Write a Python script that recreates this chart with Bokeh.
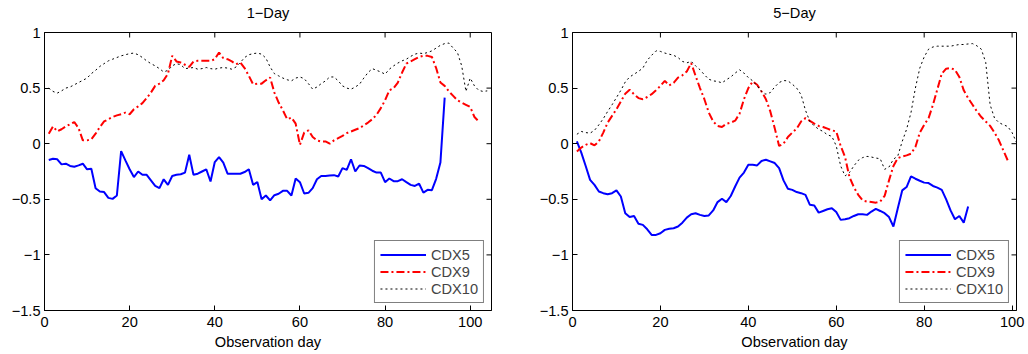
import math
from bokeh.plotting import figure
from bokeh.layouts import row
from bokeh.models import Range1d, FixedTicker, CustomJSTickFormatter, LinearAxis
from bokeh.embed import file_html
from bokeh.resources import INLINE

# ---------------- data ----------------
titles = ["1\u2212Day", "5\u2212Day"]
series_names = ["CDX5", "CDX9", "CDX10"]
x_ticks = [0, 20, 40, 60, 80, 100]
y_ticks = [-1.5, -1, -0.5, 0, 0.5, 1]
x_end = [105, 101]

cdx5_1d = [-0.147, -0.135, -0.14, -0.186, -0.18, -0.2, -0.207, -0.195, -0.18, -0.23,
           -0.225, -0.4, -0.43, -0.435, -0.487, -0.496, -0.466, -0.067, -0.15, -0.23,
           -0.30, -0.25, -0.28, -0.28, -0.33, -0.38, -0.40, -0.32, -0.37, -0.29,
           -0.28, -0.275, -0.26, -0.10, -0.28, -0.27, -0.25, -0.23, -0.34, -0.165,
           -0.12, -0.17, -0.27, -0.27, -0.27, -0.27, -0.255, -0.23, -0.37, -0.345,
           -0.50, -0.466, -0.51, -0.463, -0.45, -0.424, -0.424, -0.466, -0.313, -0.346,
           -0.448, -0.442, -0.40, -0.32, -0.29, -0.29, -0.286, -0.283, -0.295, -0.22,
           -0.235, -0.14, -0.25, -0.196, -0.20, -0.22, -0.243, -0.26, -0.26, -0.346,
           -0.313, -0.337, -0.337, -0.32, -0.346, -0.37, -0.38, -0.36, -0.44, -0.415,
           -0.418, -0.316, -0.17, 0.414]

cdx9_1d = [0.09, 0.155, 0.11, 0.13, 0.155, 0.175, 0.195, 0.14, 0.03, 0.03,
           0.04, 0.09, 0.15, 0.2, 0.22, 0.24, 0.255, 0.265, 0.28, 0.265,
           0.31, 0.335, 0.365, 0.41, 0.46, 0.52, 0.54, 0.57, 0.63, 0.79,
           0.74, 0.73, 0.71, 0.69, 0.74, 0.745, 0.745, 0.745, 0.745, 0.76,
           0.82, 0.77, 0.76, 0.74, 0.715, 0.73, 0.68, 0.61, 0.534, 0.54,
           0.54, 0.57, 0.595, 0.46, 0.37, 0.30, 0.22, 0.235, 0.18, -0.01,
           0.1, 0.12, 0.06, 0.03, 0.02, 0.02, 0.0, 0.03, 0.05, 0.07,
           0.095, 0.11, 0.125, 0.14, 0.165, 0.19, 0.22, 0.26, 0.32, 0.39,
           0.48, 0.5, 0.55, 0.64, 0.72, 0.74, 0.76, 0.78, 0.79, 0.79,
           0.78, 0.68, 0.55, 0.52, 0.47, 0.43, 0.39, 0.37, 0.35, 0.33,
           0.24, 0.2]

cdx10_1d = [0.5, 0.47, 0.455, 0.475, 0.5, 0.51, 0.53, 0.55, 0.57, 0.59,
            0.63, 0.66, 0.695, 0.72, 0.745, 0.76, 0.775, 0.79, 0.8, 0.81,
            0.815, 0.8, 0.775, 0.745, 0.72, 0.7, 0.675, 0.645, 0.66, 0.7,
            0.72, 0.71, 0.675, 0.68, 0.685, 0.67, 0.675, 0.685, 0.675, 0.67,
            0.68, 0.685, 0.68, 0.67, 0.69, 0.73, 0.775, 0.8, 0.81, 0.815,
            0.805, 0.77, 0.69, 0.63, 0.61, 0.59, 0.575, 0.565, 0.59, 0.6,
            0.585, 0.54, 0.49, 0.51, 0.54, 0.565, 0.6, 0.6, 0.565, 0.52,
            0.5, 0.49, 0.51, 0.535, 0.59, 0.64, 0.675, 0.66, 0.645, 0.625,
            0.67, 0.7, 0.725, 0.745, 0.76, 0.785, 0.805, 0.815, 0.81, 0.82,
            0.835, 0.86, 0.885, 0.9, 0.905, 0.86, 0.82, 0.7, 0.47, 0.59,
            0.52, 0.48, 0.47, 0.475]

cdx5_5d = [0.02, -0.08, -0.2, -0.325, -0.37, -0.43, -0.445, -0.455, -0.445, -0.42,
           -0.475, -0.625, -0.66, -0.65, -0.72, -0.73, -0.77, -0.82, -0.82, -0.805,
           -0.775, -0.765, -0.76, -0.745, -0.71, -0.665, -0.635, -0.625, -0.64, -0.65,
           -0.645, -0.6, -0.525, -0.495, -0.525, -0.47, -0.385, -0.305, -0.26, -0.19,
           -0.19, -0.195, -0.155, -0.144, -0.159, -0.174, -0.22, -0.33, -0.405, -0.415,
           -0.435, -0.445, -0.46, -0.55, -0.555, -0.62, -0.605, -0.59, -0.58, -0.615,
           -0.685, -0.68, -0.67, -0.65, -0.634, -0.635, -0.64, -0.61, -0.586, -0.605,
           -0.625, -0.66, -0.745, -0.58, -0.42, -0.39, -0.294, -0.315, -0.333, -0.35,
           -0.354, -0.38, -0.395, -0.415, -0.5, -0.6, -0.68, -0.65, -0.71, -0.565]

cdx9_5d = [-0.07, -0.035, -0.01, 0.005, -0.015, 0.02, 0.1, 0.19, 0.25, 0.31,
           0.38, 0.45, 0.485, 0.445, 0.41, 0.4, 0.42, 0.445, 0.48, 0.52,
           0.565, 0.525, 0.547, 0.595, 0.615, 0.65, 0.725, 0.61, 0.5, 0.4,
           0.28, 0.2, 0.16, 0.15, 0.18, 0.19, 0.207, 0.27, 0.4, 0.5,
           0.56, 0.53, 0.47, 0.4, 0.29, 0.14, -0.02, 0.0, 0.06, 0.1,
           0.135, 0.2, 0.23, 0.205, 0.18, 0.16, 0.15, 0.135, 0.12, 0.11,
           -0.02, -0.12, -0.3, -0.39, -0.46, -0.51, -0.52, -0.525, -0.53, -0.52,
           -0.47, -0.33, -0.2, -0.13, -0.115, -0.105, -0.09, -0.03, 0.1, 0.17,
           0.23, 0.35, 0.49, 0.63, 0.675, 0.68, 0.665, 0.6, 0.48, 0.41,
           0.35, 0.29, 0.24, 0.2, 0.16, 0.1, 0.03, -0.06, -0.15]

cdx10_5d = [0.085, 0.11, 0.1, 0.095, 0.12, 0.17, 0.225, 0.29, 0.35, 0.415,
            0.48, 0.555, 0.6, 0.625, 0.65, 0.68, 0.75, 0.795, 0.835, 0.83,
            0.815, 0.805, 0.795, 0.775, 0.74, 0.727, 0.74, 0.7, 0.665, 0.62,
            0.58, 0.565, 0.56, 0.547, 0.575, 0.6, 0.635, 0.665, 0.635, 0.595,
            0.565, 0.52, 0.47, 0.445, 0.46, 0.51, 0.55, 0.568, 0.565, 0.535,
            0.5, 0.44, 0.3, 0.2, 0.16, 0.13, 0.11, 0.08, 0.066, -0.02,
            -0.2, -0.29, -0.26, -0.2, -0.15, -0.125, -0.114, -0.12, -0.129, -0.135,
            -0.23, -0.21, -0.14, -0.11, 0.02, 0.13, 0.28, 0.5, 0.68, 0.78,
            0.85, 0.87, 0.877, 0.877, 0.877, 0.877, 0.885, 0.892, 0.892, 0.897,
            0.9, 0.88, 0.85, 0.73, 0.35, 0.23, 0.19, 0.17, 0.155, 0.1,
            0.01]

# ---------------- style ----------------
FONT = "Liberation Sans"
FS = "14.6px"
styles = [
    dict(line_color="#0000ff", line_width=2, line_dash="solid"),
    dict(line_color="#ff0000", line_width=2, line_dash="8 3 2 3"),
    dict(line_color="#000000", line_width=1, line_dash="2 3"),
]

fmt = CustomJSTickFormatter(code="return (tick < 0 ? '\u2212' : '') + Math.abs(tick).toString();")
Y_MIN, Y_MAX = -1.5, 1
H = 354


def panel(title, xmax, data, width, bl, br):
    p = figure(width=width, height=H, x_range=Range1d(0, xmax), y_range=Range1d(Y_MIN, Y_MAX),
               output_backend="svg", toolbar_location=None,
               min_border_left=bl, min_border_right=br, min_border_top=32, min_border_bottom=44)
    p.title.visible = False
    p.xgrid.visible = False
    p.ygrid.visible = False
    p.outline_line_color = "black"
    p.outline_line_width = 1
    p.background_fill_color = "white"
    p.border_fill_color = "white"

    bottom = p.below[0]
    left = p.left[0]

    for ax, ticks in ((bottom, x_ticks), (left, y_ticks)):
        ax.ticker = FixedTicker(ticks=ticks)
        ax.major_tick_in = 5
        ax.major_tick_out = 0
        ax.minor_tick_in = 0
        ax.minor_tick_out = 0
        ax.axis_line_color = "black"
        ax.major_tick_line_color = "black"
        ax.major_label_text_font = FONT
        ax.major_label_text_font_size = FS
        ax.major_label_text_color = "black"
        ax.formatter = fmt
    left.major_label_standoff = 4
    bottom.major_label_standoff = 6
    bottom.axis_label = "Observation day"
    bottom.axis_label_text_font = FONT
    bottom.axis_label_text_font_size = FS
    bottom.axis_label_text_font_style = "normal"
    bottom.axis_label_text_color = "black"
    bottom.axis_label_standoff = 4

    # panel title, placed as the label of a tickless axis above the frame
    top = LinearAxis(ticker=FixedTicker(ticks=[]), axis_label=title,
                     axis_label_text_font=FONT, axis_label_text_font_size=FS,
                     axis_label_text_font_style="normal", axis_label_text_color="black",
                     axis_label_standoff=12, axis_line_color=None,
                     major_tick_out=0, major_tick_in=0, minor_tick_out=0, minor_tick_in=0,
                     major_label_standoff=0)
    p.add_layout(top, "above")

    # mirrored inward ticks on the top and right edges of the box
    p.ray(x=x_ticks, y=[Y_MAX] * len(x_ticks), length=5, length_units="screen",
          angle=-math.pi / 2, line_color="black", line_width=1)
    p.ray(x=[xmax] * len(y_ticks), y=y_ticks, length=5, length_units="screen",
          angle=math.pi, line_color="black", line_width=1)

    for name, ys, st in zip(series_names, data, styles):
        xs = list(range(1, len(ys) + 1))
        p.line(xs, ys, legend_label=name, **st)

    lg = p.legend[0]
    lg.location = "bottom_right"
    lg.margin = 7
    lg.padding = 5
    lg.spacing = 0
    lg.label_height = 17
    lg.glyph_height = 17
    lg.glyph_width = 46
    lg.label_standoff = 5
    lg.label_text_font = FONT
    lg.label_text_font_size = FS
    lg.border_line_color = "black"
    lg.border_line_width = 1
    lg.background_fill_alpha = 1
    return p


p1 = panel(titles[0], x_end[0], [cdx5_1d, cdx9_1d, cdx10_1d], 518, 44, 27)
p2 = panel(titles[1], x_end[1], [cdx5_5d, cdx9_5d, cdx10_5d], 510, 54, 12)

layout = row(p1, p2, spacing=0)
open("out.html", "w").write(file_html(layout, INLINE))
